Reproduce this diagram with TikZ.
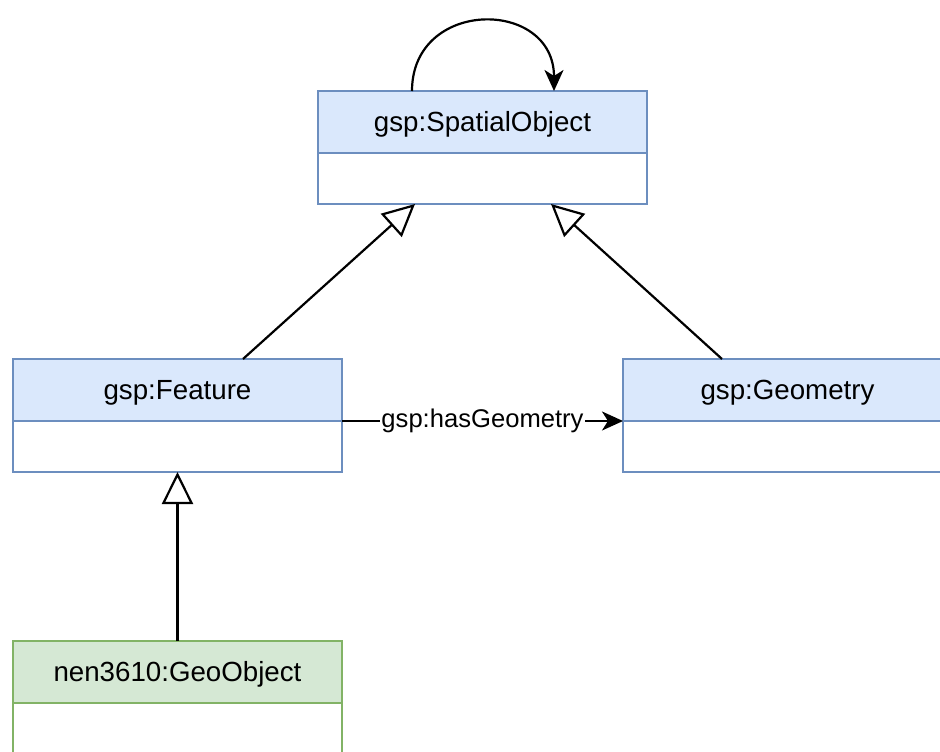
\documentclass[tikz,border=0pt]{standalone}
\usepackage{fontspec}
\setmainfont{Liberation Sans}
\usetikzlibrary{arrows.meta,positioning,calc}
\definecolor{bluefill}{HTML}{DAE8FC}
\definecolor{bluestroke}{HTML}{6C8EBF}
\definecolor{greenfill}{HTML}{D5E8D4}
\definecolor{greenstroke}{HTML}{82B366}
\tikzset{
  hdr/.style={draw=bluestroke, fill=bluefill, line width=2.2pt, outer sep=0pt, minimum width=329pt, minimum height=62pt, inner sep=0pt, text height=22pt, text depth=4pt, font=\fontsize{27.7}{33}\selectfont, text=black},
  bodybox/.style={draw=bluestroke, fill=white, line width=2.2pt, outer sep=0pt, minimum width=329pt, minimum height=51pt, inner sep=0pt},
  ghdr/.style={hdr, draw=greenstroke, fill=greenfill},
  gbody/.style={bodybox, draw=greenstroke},
  gen/.style={line width=2.2pt, -{Triangle[open, length=32pt, width=31pt, fill=white]}},
  assoc/.style={line width=2.2pt, -{Stealth[length=21pt, width=19pt, inset=6pt]}},
  elabel/.style={fill=white, inner sep=1pt, font=\fontsize{25.6}{30}\selectfont}
}
\begin{document}
\begin{tikzpicture}[x=1pt,y=-1pt]
\useasboundingbox (0,0) rectangle (940,752);
\clip (0,0) rectangle (940,752);
\fill[white] (0,0) rectangle (940,752);
% classes
\node[hdr] (so) at (482.5,122) {gsp:SpatialObject};
\node[bodybox, below=0pt of so] (sob) {};
\node[hdr] (fe) at (177.5,390) {gsp:Feature};
\node[bodybox, below=0pt of fe] (feb) {};
\node[hdr] (ge) at (787.5,390) {gsp:Geometry};
\node[bodybox, below=0pt of ge] (geb) {};
\node[ghdr] (go) at (177.5,672) {nen3610:GeoObject};
\node[gbody, below=0pt of go] (gob) {};
% self loop
\draw[assoc] ([xshift=94pt]so.north west) .. controls +(0,-93) and +(0,-93) .. ([xshift=236pt]so.north west);
% generalizations
\draw[gen] ([xshift=230pt]fe.north west) -- ([xshift=97pt]sob.south west);
\draw[gen] ([xshift=99pt]ge.north west) -- ([xshift=233pt]sob.south west);
\draw[gen] (go.north) -- (feb.south);
% association
\draw[assoc] (fe.south east) -- node[elabel] {gsp:hasGeometry} (ge.south west);
\end{tikzpicture}
\end{document}
